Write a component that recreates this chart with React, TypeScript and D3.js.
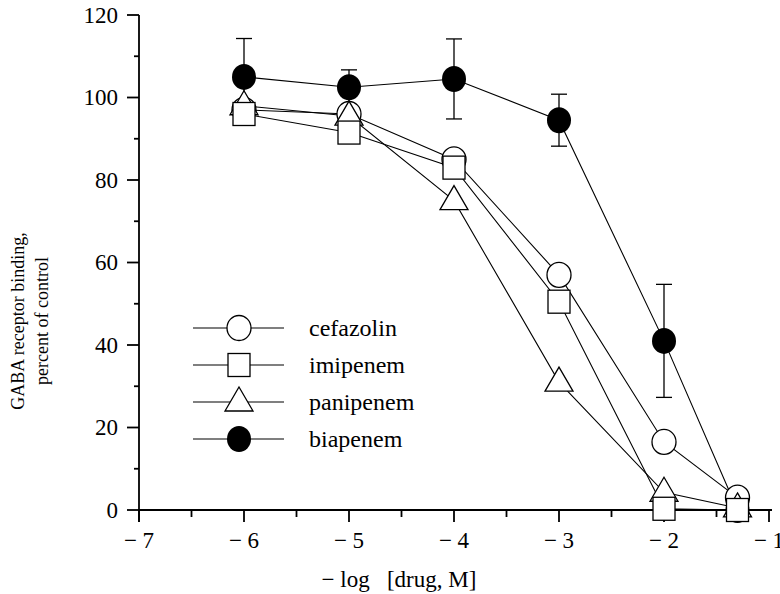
import * as React from "react";
import * as d3 from "d3";

// x values: -log [drug, M]
const doses = [-6, -5, -4, -3, -2, -1.3];

const cefazolin = [97, 96, 85, 57, 16.5, 3];
const imipenem = [96, 91.5, 83, 50.5, 0.3, 0];
const panipenem = [98, 95.5, 75, 31, 4.3, 0.5];
const biapenem = [105, 102.5, 104.5, 94.5, 41, 0];
const biapenemErr = [9.3, 4.2, 9.7, 6.3, 13.7, 0];

const xTicks = [-7, -6, -5, -4, -3, -2, -1];
const yTicks = [0, 20, 40, 60, 80, 100, 120];

const legendNames = ["cefazolin", "imipenem", "panipenem", "biapenem"];

const serif = "'Liberation Serif', 'DejaVu Serif', serif";

function Marker(props: { kind: string; x: number; y: number }) {
  const { kind, x, y } = props;
  if (kind === "circle") {
    return <ellipse cx={x} cy={y} rx={12} ry={12.5} fill="white" stroke="black" strokeWidth={1.3} />;
  }
  if (kind === "square") {
    return <rect x={x - 11} y={y - 11.5} width={22} height={23} fill="white" stroke="black" strokeWidth={1.3} />;
  }
  if (kind === "triangle") {
    const p = d3.path();
    p.moveTo(x, y - 15);
    p.lineTo(x + 14, y + 9);
    p.lineTo(x - 14, y + 9);
    p.closePath();
    return <path d={p.toString()} fill="white" stroke="black" strokeWidth={1.3} />;
  }
  return <ellipse cx={x} cy={y} rx={12} ry={13} fill="black" />;
}

export default function App() {
  const width = 780;
  const height = 594;

  const x = d3.scaleLinear().domain([-7, -1]).range([139, 769]);
  const y = d3.scaleLinear().domain([0, 120]).range([510, 15]);

  // drawing order: biapenem first so the open symbols sit on top at the last dose
  const series = [
    { name: "biapenem", kind: "filled", values: biapenem },
    { name: "cefazolin", kind: "circle", values: cefazolin },
    { name: "panipenem", kind: "triangle", values: panipenem },
    { name: "imipenem", kind: "square", values: imipenem },
  ];

  const line = d3
    .line<number>()
    .x((d, i) => x(doses[i]))
    .y((d) => y(d));

  const minorX = d3.range(-7, -0.9, 0.5).filter((d) => !Number.isInteger(d));
  const minorY = d3.range(10, 120, 20);

  const legendKinds = ["circle", "square", "triangle", "filled"];

  return (
    <svg
      width={width}
      height={height}
      style={{ position: "absolute", left: 0, top: 0, background: "white" }}
    >
      {/* axes */}
      <g stroke="black" strokeWidth={1.8} fill="none">
        <line x1={x(-7)} x2={x(-1) + 3} y1={y(0)} y2={y(0)} />
        <line x1={x(-7)} x2={x(-7)} y1={y(0) + 12} y2={y(120)} />
        {xTicks.map((d) => (
          <line key={"xt" + d} x1={x(d)} x2={x(d)} y1={y(0)} y2={y(0) + 12} />
        ))}
        {minorX.map((d) => (
          <line key={"xm" + d} x1={x(d)} x2={x(d)} y1={y(0)} y2={y(0) + 7} />
        ))}
        {yTicks.map((d) => (
          <line key={"yt" + d} x1={x(-7) - 12} x2={x(-7)} y1={y(d)} y2={y(d)} />
        ))}
        {minorY.map((d) => (
          <line key={"ym" + d} x1={x(-7) - 5} x2={x(-7)} y1={y(d)} y2={y(d)} />
        ))}
      </g>
      <g fontFamily={serif} fontSize={23} fill="black">
        {yTicks.map((d) => (
          <text key={"yl" + d} x={x(-7) - 21} y={y(d)} textAnchor="end" dominantBaseline="central">
            {d}
          </text>
        ))}
        {xTicks.map((d) => (
          <text key={"xl" + d} x={x(d)} y={y(0) + 30} textAnchor="middle" dominantBaseline="central">
            {"\u2212 " + Math.abs(d)}
          </text>
        ))}
        <text x={399} y={579} textAnchor="middle" dominantBaseline="central" xmlSpace="preserve">
          {"\u2212 log   [drug, M]"}
        </text>
      </g>
      <g fontFamily={serif} fontSize={18} fill="black" textAnchor="middle">
        <text transform={`translate(18, 321) rotate(-90)`} dominantBaseline="central">
          GABA receptor binding,
        </text>
        <text transform={`translate(42, 321) rotate(-90)`} dominantBaseline="central">
          percent of control
        </text>
      </g>

      {/* error bars */}
      <g stroke="black" strokeWidth={1.3}>
        {biapenem.map((v, i) =>
          biapenemErr[i] > 0 ? (
            <g key={"eb" + i}>
              <line x1={x(doses[i])} x2={x(doses[i])} y1={y(v - biapenemErr[i])} y2={y(v + biapenemErr[i])} />
              <line x1={x(doses[i]) - 8} x2={x(doses[i]) + 8} y1={y(v + biapenemErr[i])} y2={y(v + biapenemErr[i])} />
              <line x1={x(doses[i]) - 8} x2={x(doses[i]) + 8} y1={y(v - biapenemErr[i])} y2={y(v - biapenemErr[i])} />
            </g>
          ) : null
        )}
      </g>

      {/* lines */}
      <g stroke="black" strokeWidth={1.1} fill="none">
        {series.map((s) => (
          <path key={"l" + s.name} d={line(s.values) || ""} />
        ))}
      </g>

      {/* markers */}
      {series.map((s) => (
        <g key={"m" + s.name}>
          {s.values.map((v, i) => (
            <Marker key={i} kind={s.kind} x={x(doses[i])} y={y(v)} />
          ))}
        </g>
      ))}

      {/* legend */}
      {legendNames.map((name, i) => {
        const ly = 328 + i * 37;
        return (
          <g key={"lg" + name}>
            <line x1={193} x2={284} y1={ly} y2={ly} stroke="black" strokeWidth={1.1} />
            <Marker kind={legendKinds[i]} x={239} y={ly} />
            <text x={309} y={ly} fontFamily={serif} fontSize={24} dominantBaseline="central">
              {name}
            </text>
          </g>
        );
      })}
    </svg>
  );
}
